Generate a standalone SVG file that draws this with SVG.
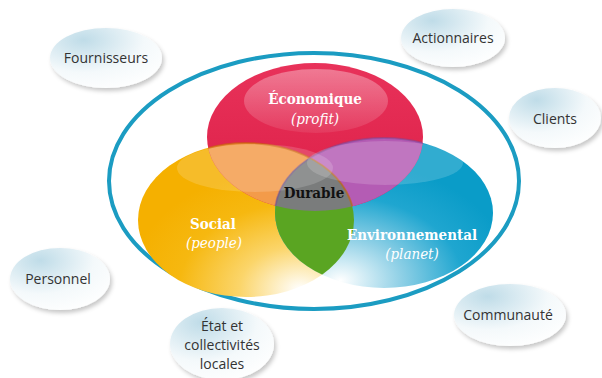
<svg xmlns="http://www.w3.org/2000/svg" width="602" height="378" viewBox="0 0 602 378">
<style>
.sat{font-family:"Open Sans","DejaVu Sans",sans-serif;font-size:14px;fill:#333;text-anchor:middle}
.lab{font-family:"DejaVu Serif Condensed","DejaVu Serif",serif;font-size:15px;fill:#fff;text-anchor:middle;font-weight:bold}
.it{font-style:italic;font-weight:normal}
.dur{font-family:"DejaVu Serif Condensed","DejaVu Serif",serif;font-size:15px;fill:#111;text-anchor:middle;font-weight:bold}
.bub{fill:url(#gBub);filter:url(#sh)}
</style>
<defs>
<radialGradient id="gBub" cx="0.3" cy="0.2" r="0.9">
<stop offset="0" stop-color="#bfdce8"/><stop offset="0.6" stop-color="#f4f9fb"/><stop offset="1" stop-color="#ffffff"/>
</radialGradient>
<filter id="sh" x="-20%" y="-20%" width="150%" height="150%">
<feDropShadow dx="2" dy="3" stdDeviation="2" flood-color="#000" flood-opacity="0.22"/>
</filter>
<radialGradient id="gY" cx="0.75" cy="0.95" r="0.8">
<stop offset="0" stop-color="#ffffff"/><stop offset="0.35" stop-color="#fbd56a"/><stop offset="0.7" stop-color="#f6b810"/><stop offset="1" stop-color="#f5b000"/>
</radialGradient>
<radialGradient id="gB" cx="0.3" cy="0.95" r="0.8">
<stop offset="0" stop-color="#ffffff"/><stop offset="0.35" stop-color="#8fd0e6"/><stop offset="0.7" stop-color="#1fa6d0"/><stop offset="1" stop-color="#0a9cc8"/>
</radialGradient>
<linearGradient id="gR" x1="0" y1="0" x2="0" y2="1">
<stop offset="0" stop-color="#e8325a"/><stop offset="1" stop-color="#dc1e46"/>
</linearGradient>
<linearGradient id="gHi" x1="0" y1="0" x2="0" y2="1">
<stop offset="0" stop-color="#fff" stop-opacity="0.35"/><stop offset="1" stop-color="#fff" stop-opacity="0.08"/>
</linearGradient>
<clipPath id="cR"><ellipse cx="315" cy="137" rx="108" ry="74"/></clipPath>
<clipPath id="cY"><ellipse cx="246" cy="220" rx="108" ry="77"/></clipPath>
<clipPath id="cB"><ellipse cx="384" cy="213" rx="109" ry="75"/></clipPath>
</defs>
<rect width="602" height="378" fill="#fff"/>

<g id="outer">
<ellipse cx="314" cy="181" rx="205" ry="128" fill="none" stroke="#1b9cc2" stroke-width="4"/>
</g>

<g id="venn">
<ellipse cx="246" cy="220" rx="108" ry="77" fill="url(#gY)"/>
<ellipse cx="384" cy="213" rx="109" ry="75" fill="url(#gB)"/>
<ellipse cx="315" cy="137" rx="108" ry="74" fill="url(#gR)"/>
<ellipse cx="246" cy="220" rx="108" ry="77" fill="#f39b4a" clip-path="url(#cR)"/>
<ellipse cx="384" cy="213" rx="109" ry="75" fill="#b45cb4" clip-path="url(#cR)"/>
<ellipse cx="384" cy="213" rx="109" ry="75" fill="#5aa522" clip-path="url(#cY)"/>
<g clip-path="url(#cR)"><ellipse cx="384" cy="213" rx="109" ry="75" fill="#7a7c7c" clip-path="url(#cY)"/></g>
<ellipse cx="246" cy="220" rx="108" ry="77" fill="none" stroke="#c8640a" stroke-width="2" stroke-opacity="0.6" clip-path="url(#cR)"/>
<ellipse cx="384" cy="213" rx="109" ry="75" fill="none" stroke="#7a4a9a" stroke-width="2" stroke-opacity="0.5" clip-path="url(#cR)"/>
<ellipse cx="316" cy="101" rx="72" ry="32" fill="url(#gHi)"/>
<ellipse cx="255" cy="168" rx="78" ry="24" fill="#fff" fill-opacity="0.16"/>
<ellipse cx="385" cy="163" rx="78" ry="22" fill="#fff" fill-opacity="0.16"/>
</g>

<g id="n-eco">
<text class="lab" x="315" y="104">Économique</text>
<text class="lab it" x="315" y="124">(profit)</text>
</g>
<g id="n-soc">
<text class="lab" x="213" y="229">Social</text>
<text class="lab it" x="214" y="248">(people)</text>
</g>
<g id="n-env">
<text class="lab" x="412" y="240">Environnemental</text>
<text class="lab it" x="412" y="259">(planet)</text>
</g>
<g id="n-dur">
<text class="dur" x="314" y="198">Durable</text>
</g>

<g id="s-four">
<ellipse class="bub" cx="106" cy="58" rx="56" ry="30"/>
<text class="sat" x="106" y="63">Fournisseurs</text>
</g>
<g id="s-act">
<ellipse class="bub" cx="453" cy="38" rx="52" ry="29"/>
<text class="sat" x="453" y="43">Actionnaires</text>
</g>
<g id="s-cli">
<ellipse class="bub" cx="555" cy="118" rx="46" ry="30"/>
<text class="sat" x="555" y="124">Clients</text>
</g>
<g id="s-per">
<ellipse class="bub" cx="60" cy="279" rx="50" ry="31"/>
<text class="sat" x="58" y="284">Personnel</text>
</g>
<g id="s-com">
<ellipse class="bub" cx="510" cy="315" rx="56" ry="31"/>
<text class="sat" x="508" y="320">Communauté</text>
</g>
<g id="s-eta">
<ellipse class="bub" cx="222" cy="344" rx="52" ry="36"/>
<text class="sat" x="222" y="331">État et</text>
<text class="sat" x="222" y="350">collectivités</text>
<text class="sat" x="222" y="369">locales</text>
</g>
</svg>
